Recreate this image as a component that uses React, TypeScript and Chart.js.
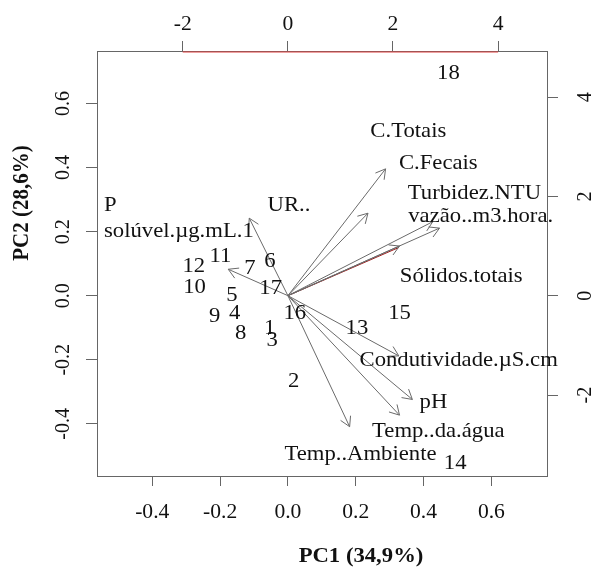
import React, { useEffect, useRef } from 'react';
import { Chart, registerables } from 'chart.js';

Chart.register(...registerables);

// ---- data ----
const obsNames = ['1', '2', '3', '4', '5', '6', '7', '8', '9', '10', '11', '12', '13', '14', '15', '16', '17', '18'];
const obsPC1 = [-0.347, 0.11, -0.298, -1.011, -1.063, -0.342, -0.721, -0.896, -1.391, -1.774, -1.281, -1.789, 1.315, 3.184, 2.125, 0.133, -0.326, 3.055];
const obsPC2 = [-0.657, -1.734, -0.893, -0.355, 0.014, 0.685, 0.552, -0.758, -0.423, 0.169, 0.786, 0.585, -0.657, -3.379, -0.355, -0.355, 0.149, 4.484];

const arrowNames = ['C.Totais', 'C.Fecais', 'Turbidez.NTU', 'vazão..m3.hora.', 'Sólidos.totais', 'UR..', 'P solúvel.µg.mL.1', 'Condutividade.µS.cm', 'pH', 'Temp..da.água', 'Temp..Ambiente'];
const arrowPC1 = [0.288, 0.236, 0.447, 0.427, 0.329, -0.114, -0.176, 0.327, 0.367, 0.329, 0.182];
const arrowPC2 = [0.396, 0.2575, 0.211, 0.231, 0.155, 0.242, 0.0825, -0.188, -0.324, -0.373, -0.409];

const varLabels = ['C.Totais', 'C.Fecais', 'Turbidez.NTU', 'vazão..m3.hora.', 'Sólidos.totais', 'UR..', 'P', 'solúvel.µg.mL.1', 'Condutividade.µS.cm', 'pH', 'Temp..da.água', 'Temp..Ambiente'];
const varLabelPC1 = [0.355, 0.4435, 0.55, 0.5685, 0.511, 0.003, -0.5235, -0.3215, 0.5035, 0.429, 0.4435, 0.214];
const varLabelPC2 = [0.5125, 0.4138, 0.32, 0.247, 0.059, 0.283, 0.281, 0.199, -0.201, -0.334, -0.423, -0.495];

const loadingMin = -0.563;
const loadingMax = 0.764;
const loadingStep = 0.2;
const scoreMin = -3.63;
const scoreMax = 4.93;
const scoreStep = 2;

const redArrowTip = [0.326, 0.15];
const redTopX = [-2, 4];
const redTopY = 4.91;

const xTitle = 'PC1 (34,9%)';
const yTitle = 'PC2 (28,6%)';

// ---- styles ----
const SERIF = '"Liberation Serif", "Times New Roman", serif';
const SX = 1.08;
const TEXT = '#111';
const AXIS = '#666';
const ARROW = '#6a6a6a';

function drawText(ctx: CanvasRenderingContext2D, text: string, x: number, y: number, font: string, rot = 0) {
  ctx.save();
  ctx.translate(x, y);
  ctx.scale(SX, 1);
  if (rot) ctx.rotate(rot);
  ctx.font = font;
  ctx.fillStyle = TEXT;
  ctx.textAlign = 'center';
  ctx.textBaseline = 'middle';
  ctx.fillText(text, 0, 0);
  ctx.restore();
}

const biplotPlugin = {
  id: 'biplotText',
  afterDatasetsDraw(chart: any) {
    const ctx: CanvasRenderingContext2D = chart.ctx;
    const area = chart.chartArea;
    // arrowheads
    chart.data.datasets.forEach((ds: any, i: number) => {
      if (ds.label !== 'arrow') return;
      const meta = chart.getDatasetMeta(i);
      const p0 = meta.data[0];
      const p1 = meta.data[1];
      const a = Math.atan2(p1.y - p0.y, p1.x - p0.x);
      const L = 11;
      ctx.save();
      ctx.strokeStyle = ARROW;
      ctx.lineWidth = 1;
      ctx.beginPath();
      ctx.moveTo(p1.x - L * Math.cos(a - Math.PI / 6), p1.y - L * Math.sin(a - Math.PI / 6));
      ctx.lineTo(p1.x, p1.y);
      ctx.lineTo(p1.x - L * Math.cos(a + Math.PI / 6), p1.y - L * Math.sin(a + Math.PI / 6));
      ctx.stroke();
      ctx.restore();
    });
    const labelFont = `21px ${SERIF}`;
    chart.data.datasets.forEach((ds: any, i: number) => {
      const meta = chart.getDatasetMeta(i);
      if (ds.label === 'obs') {
        meta.data.forEach((el: any, j: number) => drawText(ctx, obsNames[j], el.x, el.y, labelFont));
      } else if (ds.label === 'vars') {
        meta.data.forEach((el: any, j: number) => drawText(ctx, varLabels[j], el.x, el.y, labelFont));
      }
    });
    // tick labels
    const tickFont = `20px ${SERIF}`;
    const sc = chart.scales;
    const fmtL = (v: number) => (Math.abs(v) < 1e-9 ? 0 : v).toFixed(1);
    const fmtS = (v: number) => String(Math.round(v));
    sc.x.ticks.forEach((t: any) => drawText(ctx, fmtL(t.value), sc.x.getPixelForValue(t.value), area.bottom + 37, tickFont));
    sc.x2.ticks.forEach((t: any) => drawText(ctx, fmtS(t.value), sc.x2.getPixelForValue(t.value), area.top - 26, tickFont));
    sc.y.ticks.forEach((t: any) => drawText(ctx, fmtL(t.value), area.left - 34, sc.y.getPixelForValue(t.value), tickFont, -Math.PI / 2));
    sc.y2.ticks.forEach((t: any) => drawText(ctx, fmtS(t.value), area.right + 38, sc.y2.getPixelForValue(t.value), tickFont, -Math.PI / 2));
    // titles
    const titleFont = `bold 21px ${SERIF}`;
    drawText(ctx, xTitle, area.left + 264, area.bottom + 81, titleFont);
    drawText(ctx, yTitle, 22, area.top + 152, titleFont, -Math.PI / 2);
  },
};

export default function App() {
  const ref = useRef<HTMLCanvasElement>(null);
  useEffect(() => {
    const canvas = ref.current!;
    const datasets: any[] = [];
    datasets.push({
      label: 'obs',
      xAxisID: 'x2',
      yAxisID: 'y2',
      data: obsPC1.map((v, i) => ({ x: v, y: obsPC2[i] })),
      pointRadius: 0,
      showLine: false,
    });
    datasets.push({
      label: 'vars',
      xAxisID: 'x',
      yAxisID: 'y',
      data: varLabelPC1.map((v, i) => ({ x: v, y: varLabelPC2[i] })),
      pointRadius: 0,
      showLine: false,
      clip: false,
    });
    arrowNames.forEach((_n, i) => {
      datasets.push({
        label: 'arrow',
        xAxisID: 'x',
        yAxisID: 'y',
        data: [
          { x: 0, y: 0 },
          { x: arrowPC1[i], y: arrowPC2[i] },
        ],
        showLine: true,
        borderColor: ARROW,
        borderWidth: 1,
        pointRadius: 0,
      });
    });
    datasets.push({
      label: 'red',
      xAxisID: 'x',
      yAxisID: 'y',
      data: [
        { x: 0, y: 0 },
        { x: redArrowTip[0], y: redArrowTip[1] },
      ],
      showLine: true,
      borderColor: '#a31616',
      borderWidth: 1,
      pointRadius: 0,
    });
    datasets.push({
      label: 'red',
      xAxisID: 'x2',
      yAxisID: 'y2',
      data: [
        { x: redTopX[0], y: redTopY },
        { x: redTopX[1], y: redTopY },
      ],
      showLine: true,
      borderColor: '#e04040',
      borderWidth: 1.2,
      pointRadius: 0,
      clip: false,
    });

    const axisCommon = (pos: string, min: number, max: number, step: number, size: number, tl: number) => ({
      type: 'linear',
      position: pos,
      min,
      max,
      ticks: { display: false, stepSize: step, includeBounds: false },
      grid: { drawOnChartArea: false, drawTicks: true, tickLength: tl, color: AXIS, lineWidth: 1 },
      border: { display: true, color: AXIS, width: 1 },
      afterFit: (s: any) => {
        if (pos === 'top' || pos === 'bottom') s.height = size;
        else s.width = size;
      },
    });

    const chart = new Chart(canvas, {
      type: 'scatter',
      data: { datasets },
      options: {
        animation: false,
        responsive: false,
        events: [],
        layout: { padding: 0 },
        plugins: { legend: { display: false }, tooltip: { enabled: false }, title: { display: false } },
        scales: {
          x: axisCommon('bottom', loadingMin, loadingMax, loadingStep, 91, 10),
          x2: axisCommon('top', scoreMin, scoreMax, scoreStep, 51, 10),
          y: axisCommon('left', loadingMin, loadingMax, loadingStep, 97, 11),
          y2: axisCommon('right', scoreMin, scoreMax, scoreStep, 48, 11),
        },
      } as any,
      plugins: [biplotPlugin],
    });
    return () => chart.destroy();
  }, []);

  return (
    <div style={{ position: 'fixed', left: 0, top: 0, width: 595, height: 567, background: '#fff' }}>
      <canvas ref={ref} width={595} height={567} style={{ display: 'block' }} />
    </div>
  );
}
